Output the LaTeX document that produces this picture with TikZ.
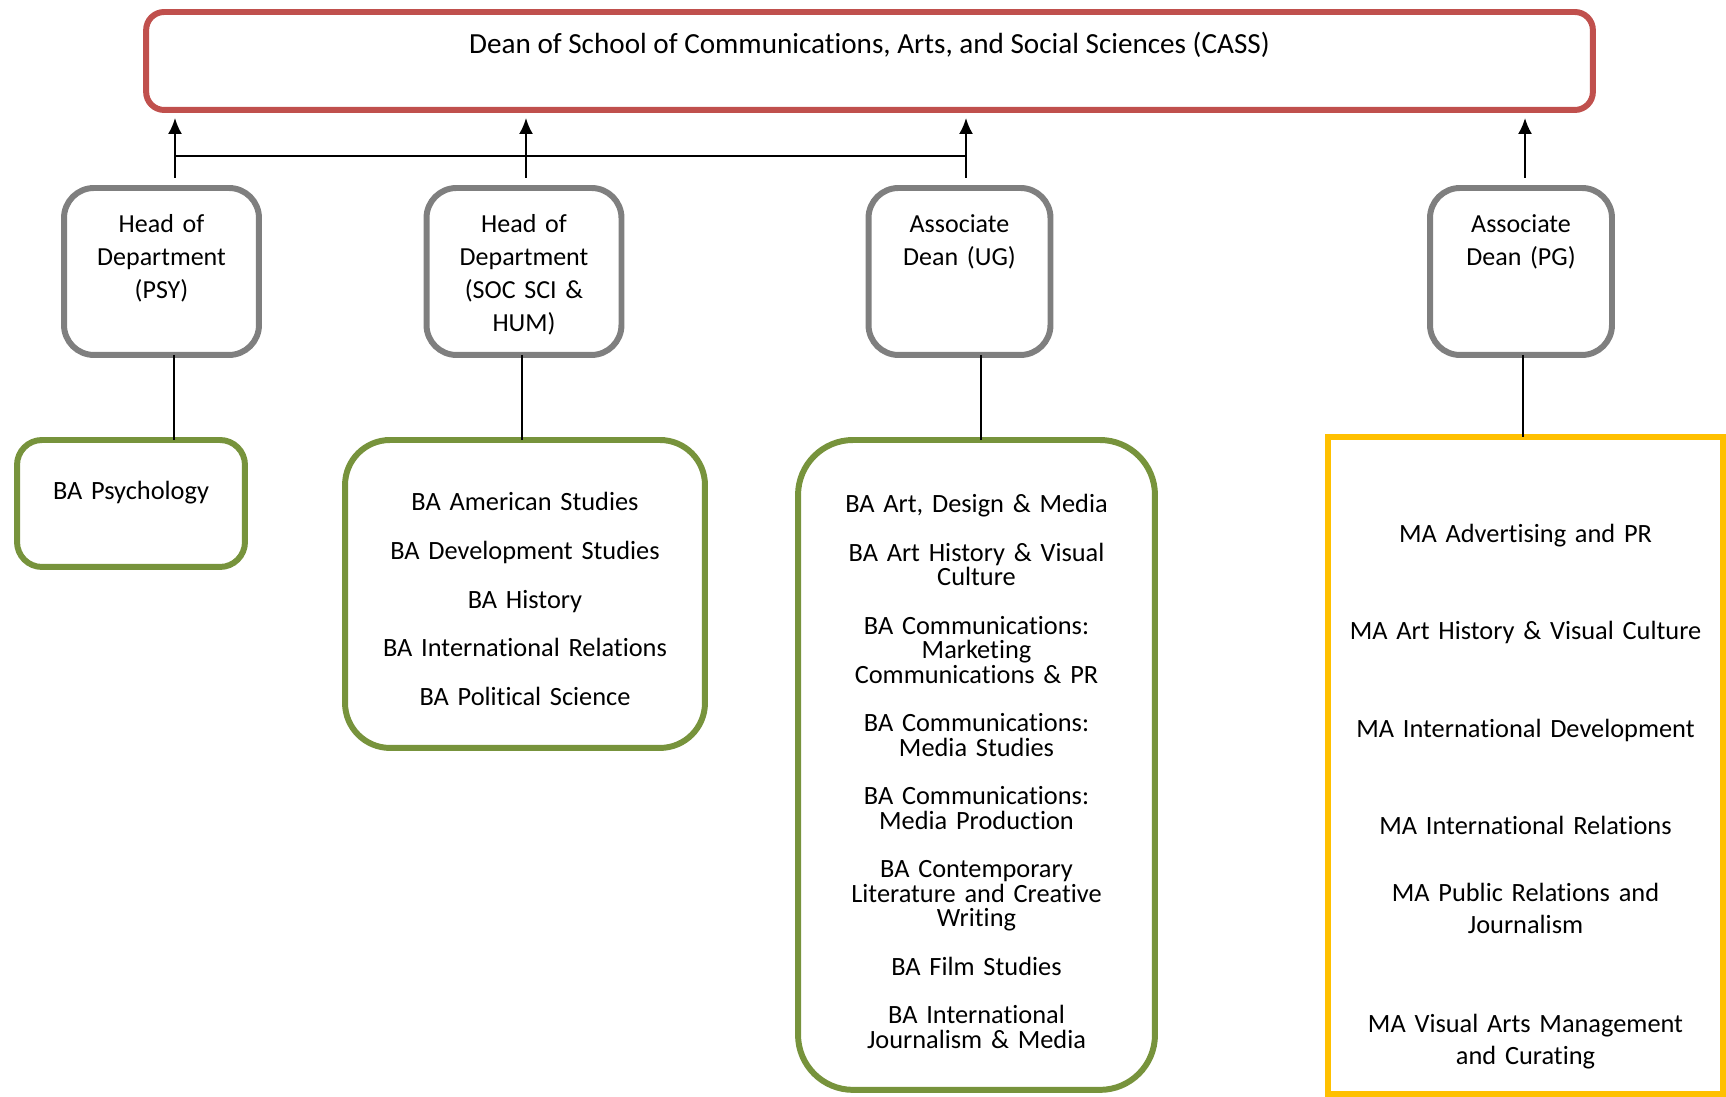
\documentclass[tikz,border=0pt]{standalone}
\usepackage{fontspec}
\setmainfont{Carlito}[Ligatures=NoCommon]
\usetikzlibrary{arrows.meta}

\definecolor{deanred}{HTML}{C0504D}
\definecolor{headgray}{HTML}{7F7F7F}
\definecolor{ugreen}{HTML}{77933C}
\definecolor{pgyellow}{HTML}{FFC000}

\newcommand{\tightlines}{\lineskiplimit=-20pt\relax}

\tikzset{
  deanbox/.style={draw=deanred, line width=3.4pt, rounded corners=0.36cm, anchor=north,
    inner ysep=0pt, outer sep=0pt, font=\fontsize{16.6}{18.7}\selectfont},
  headbox/.style={draw=headgray, line width=3.4pt, rounded corners=0.6cm, anchor=north,
    align=center, text width=3.2cm, inner ysep=0pt, outer sep=0pt,
    text height=0.9cm, text depth=2.44cm, font=\fontsize{14.8}{18.7}\selectfont},
  listbox/.style={draw=ugreen, line width=3.4pt, anchor=north, align=center,
    inner ysep=0pt, outer sep=0pt,
    font={\fontsize{15}{13.85}\selectfont\tightlines}},
  pgbox/.style={draw=pgyellow, line width=3.4pt, anchor=north, align=center,
    inner ysep=0pt, outer sep=0pt,
    font={\fontsize{15}{18.2}\selectfont\tightlines}},
  uparrow/.style={-{Latex[length=0.32cm,width=0.28cm]}, line width=1.2pt,
    shorten <=0.2cm, shorten >=0.16cm},
  stem/.style={line width=0.8pt}
}

\begin{document}
\begin{tikzpicture}[x=0.02cm, y=-0.02cm]
\useasboundingbox (0,0) rectangle (1726,1097);

% dean
\node[deanbox, minimum width=28.94cm, text height=0.84cm, text depth=1.12cm] (dean) at (869.5,12)
  {Dean of School of Communications, Arts, and Social Sciences (CASS)};

% heads
\node[headbox, minimum width=3.9cm] (psy) at (161.5,188) {Head of\\Department\\(PSY)};
\node[headbox, minimum width=3.9cm] (soc) at (524,188) {Head of\\Department\\(SOC SCI \&\\HUM)};
\node[headbox, minimum width=3.64cm] (ug) at (959.5,188) {Associate\\Dean (UG)};
\node[headbox, minimum width=3.64cm] (pg) at (1521,188) {Associate\\Dean (PG)};

% programmes
\node[listbox, rounded corners=0.5cm, minimum width=4.56cm, text width=4cm,
  text height=1.2cm, text depth=1.34cm] (psyba) at (131,440) {BA Psychology};
\node[listbox, rounded corners=0.9cm, minimum width=7.2cm, text width=6.6cm,
  text height=1.42cm, text depth=4.74cm] (socba) at (525,440)
  {BA American Studies\\[13.85pt]
   BA Development Studies\\[13.85pt]
   BA History\\[13.85pt]
   BA International Relations\\[13.85pt]
   BA Political Science};
\node[listbox, rounded corners=1.1cm, minimum width=7.14cm, text width=6.6cm,
  text height=1.46cm, text depth=11.54cm] (ugba) at (976.5,440)
  {BA Art, Design \& Media\\[13.85pt]
   BA Art History \& Visual\\Culture\\[13.85pt]
   BA Communications:\\Marketing\\Communications \& PR\\[13.85pt]
   BA Communications:\\Media Studies\\[13.85pt]
   BA Communications:\\Media Production\\[13.85pt]
   BA Contemporary\\Literature and Creative\\Writing\\[13.85pt]
   BA Film Studies\\[13.85pt]
   BA International\\Journalism \& Media};
\node[pgbox, minimum width=7.9cm, text width=7.3cm,
  text height=2.12cm, text depth=11.02cm] (pgma) at (1525.5,437)
  {MA Advertising and PR\\[36.8pt]
   MA Art History \& Visual Culture\\[37.6pt]
   MA International Development\\[36.8pt]
   MA International Relations\\[19.8pt]
   MA Public Relations and\\Journalism\\[38.2pt]
   MA Visual Arts Management\\and Curating};

% arrows up to the dean
\coordinate (a1) at (175,156);
\coordinate (a2) at (526,156);
\coordinate (a3) at (966,156);
\coordinate (a4) at (1525,156);
\draw[uparrow] (psy.north -| a1) -- (dean.south -| a1);
\draw[uparrow] (soc.north -| a2) -- (dean.south -| a2);
\draw[uparrow] (ug.north -| a3) -- (dean.south -| a3);
\draw[uparrow] (pg.north -| a4) -- (dean.south -| a4);
\draw[line width=1.2pt] (a1) -- (a3);

% stems down to the programmes
\coordinate (s1) at (174,0);
\coordinate (s2) at (522,0);
\coordinate (s3) at (981,0);
\coordinate (s4) at (1523,0);
\draw[stem] (psy.south -| s1) -- (psyba.north -| s1);
\draw[stem] (soc.south -| s2) -- (socba.north -| s2);
\draw[stem] (ug.south -| s3) -- (ugba.north -| s3);
\draw[stem] (pg.south -| s4) -- (pgma.north -| s4);
\end{tikzpicture}
\end{document}
